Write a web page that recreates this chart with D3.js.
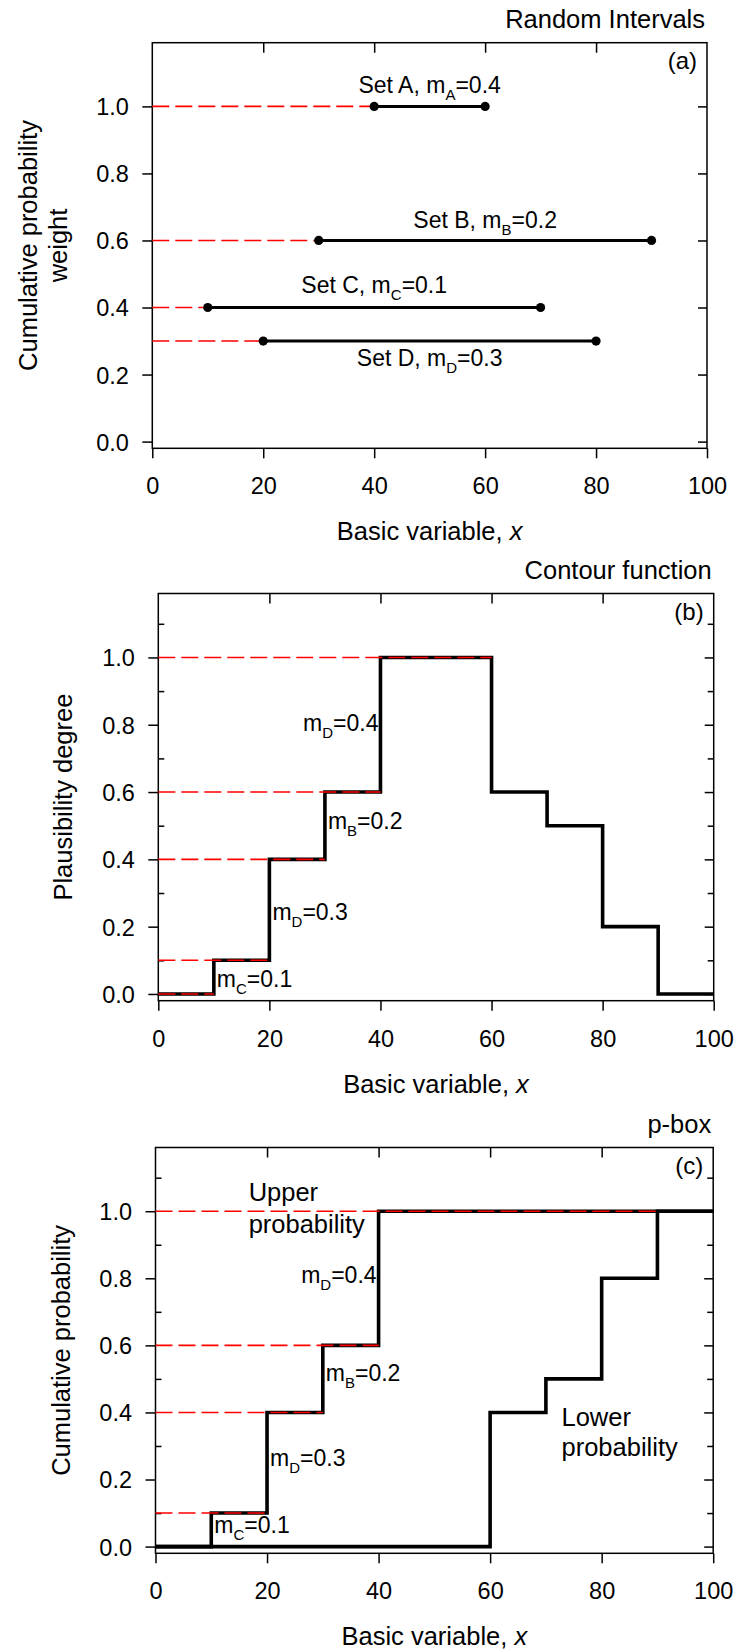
<!DOCTYPE html>
<html>
<head>
<meta charset="utf-8">
<script src="https://cdn.jsdelivr.net/npm/d3@7/dist/d3.min.js"></script>
<style>
  html, body { margin: 0; padding: 0; background: #fff; }
  svg { display: block; }
  text { font-family: "Liberation Sans", Arial, Helvetica, sans-serif; fill: #000; }
</style>
</head>
<body>
<svg id="chart" width="736" height="1651"></svg>
<script>
// ---- axis ticks ----
const xTicks = [0, 20, 40, 60, 80, 100];
const yTicks = [0, 0.2, 0.4, 0.6, 0.8, 1.0];
const yMinorTicks = [0.1, 0.3, 0.5, 0.7, 0.9, 1.1];

// ---- (a) random intervals ----
const setNames = ["A", "B", "C", "D"];
const setLow = [40, 30, 10, 20];
const setHigh = [60, 90, 70, 80];
const setMass = [0.4, 0.2, 0.1, 0.3];
const setLevel = [1.0, 0.6, 0.4, 0.3];

// ---- (b) contour function (step after each x) ----
const contourX = [0, 10, 20, 30, 40, 60, 70, 80, 90, 100];
const contourY = [0, 0.1, 0.4, 0.6, 1.0, 0.6, 0.5, 0.2, 0, 0];
const contourGuideLevel = [0, 0.1, 0.4, 0.6, 1.0];
const contourGuideEnd = [10, 20, 30, 40, 60];

// ---- (c) p-box (step after each x) ----
const upperX = [0, 10, 20, 30, 40, 100];
const upperY = [0, 0.1, 0.4, 0.6, 1.0, 1.0];
const lowerX = [0, 60, 70, 80, 90, 100];
const lowerY = [0, 0.4, 0.5, 0.8, 1.0, 1.0];
const pboxGuideLevel = [0.1, 0.4, 0.6, 1.0];
const pboxGuideEnd = [20, 30, 40, 90];

// mass labels next to the steps
const stepLabelSub = ["D", "B", "D", "C"];
const stepLabelVal = ["0.4", "0.2", "0.3", "0.1"];

const svg = d3.select("#chart");
const RED = "#ff0000";
const TICK_FONT = 23.5, TITLE_FONT = 25.5, NOTE_FONT = 23, SUB_FONT = 15;

function makePanel(opt) {
  const g = svg.append("g").attr("transform", `translate(${opt.left},${opt.top})`);
  const x = d3.scaleLinear().domain([0, 100]).range([0, opt.width]);
  const y = d3.scaleLinear().domain([-0.02, 1.19]).range([opt.height, 0]);
  const W = opt.width, H = opt.height;

  // bottom axis: outward ticks + labels
  const bottom = g.append("g").attr("transform", `translate(0,${H})`)
    .call(d3.axisBottom(x).tickValues(xTicks).tickSize(10).tickSizeOuter(0).tickPadding(0).tickFormat(d3.format("d")));
  bottom.select(".domain").remove();
  bottom.selectAll(".tick line").attr("stroke", "#000").attr("stroke-width", 1.5);
  bottom.selectAll(".tick text").attr("font-size", TICK_FONT).attr("dy", null).attr("y", 46)
    .style("font-family", null);

  // top: inward ticks without labels
  const top = g.append("g")
    .call(d3.axisTop(x).tickValues(xTicks.slice(1, -1)).tickSize(-10).tickSizeOuter(0).tickFormat(""));
  top.select(".domain").remove();
  top.selectAll(".tick line").attr("stroke", "#000").attr("stroke-width", 1.5);

  // left axis: outward majors with labels
  const left = g.append("g")
    .call(d3.axisLeft(y).tickValues(yTicks).tickSize(10).tickSizeOuter(0).tickPadding(13.5).tickFormat(d3.format(".1f")));
  left.select(".domain").remove();
  left.selectAll(".tick line").attr("stroke", "#000").attr("stroke-width", 1.5);
  left.selectAll(".tick text").attr("font-size", TICK_FONT).attr("dy", "0.36em").style("font-family", null);

  // right: inward majors
  const right = g.append("g").attr("transform", `translate(${W},0)`)
    .call(d3.axisRight(y).tickValues(yTicks).tickSize(-9).tickSizeOuter(0).tickFormat(""));
  right.select(".domain").remove();
  right.selectAll(".tick line").attr("stroke", "#000").attr("stroke-width", 1.5);

  if (opt.minor) {
    const lm = g.append("g")
      .call(d3.axisLeft(y).tickValues(yMinorTicks).tickSize(-6).tickSizeOuter(0).tickFormat(""));
    lm.select(".domain").remove();
    lm.selectAll(".tick line").attr("stroke", "#000").attr("stroke-width", 1.5);
    const rm = g.append("g").attr("transform", `translate(${W},0)`)
      .call(d3.axisRight(y).tickValues(yMinorTicks).tickSize(-6).tickSizeOuter(0).tickFormat(""));
    rm.select(".domain").remove();
    rm.selectAll(".tick line").attr("stroke", "#000").attr("stroke-width", 1.5);
  }

  // frame
  g.append("rect").attr("x", 0).attr("y", 0).attr("width", W).attr("height", H)
    .attr("fill", "none").attr("stroke", "#000").attr("stroke-width", 1.5);

  // panel title and letter
  g.append("text").attr("x", W - 2).attr("y", -14.5).attr("text-anchor", "end")
    .attr("font-size", TITLE_FONT).text(opt.title);
  g.append("text").attr("x", W - 10).attr("y", 26).attr("text-anchor", "end")
    .attr("font-size", 24).text(opt.letter);

  // x axis title
  const xt = g.append("text").attr("x", W / 2).attr("y", H + 92).attr("text-anchor", "middle")
    .attr("font-size", TITLE_FONT);
  xt.append("tspan").text("Basic variable, ");
  xt.append("tspan").attr("font-style", "italic").text("x");

  // y axis title (one or two lines)
  opt.yTitle.forEach((line, i) => {
    g.append("text")
      .attr("transform", `translate(${opt.yTitleX[i]},${H / 2}) rotate(-90)`)
      .attr("text-anchor", "middle").attr("font-size", TITLE_FONT).text(line);
  });

  return { g, x, y };
}

function dashedGuide(p, level, end) {
  p.g.append("line")
    .attr("x1", p.x(0)).attr("x2", p.x(end))
    .attr("y1", p.y(level)).attr("y2", p.y(level))
    .attr("stroke", RED).attr("stroke-width", 1.6)
    .attr("stroke-dasharray", "17,6");
}

function massLabel(p, sub, val, xv, yv, anchor, extra) {
  const t = p.g.append("text")
    .attr("x", p.x(xv) + (anchor === "end" ? -2 : 3))
    .attr("y", p.y(yv))
    .attr("text-anchor", anchor).attr("font-size", NOTE_FONT);
  if (extra) t.append("tspan").text(extra);
  t.append("tspan").text("m");
  t.append("tspan").attr("font-size", SUB_FONT).attr("dy", 7).text(sub);
  t.append("tspan").attr("dy", -7).text("=" + val);
  return t;
}

const stepLine = (p) => d3.line().x(d => p.x(d[0])).y(d => p.y(d[1])).curve(d3.curveStepAfter);

// ================= (a) Random Intervals =================
const pa = makePanel({
  left: 152.3, top: 42.7, width: 554.7, height: 405.6,
  title: "Random Intervals", letter: "(a)", minor: false,
  yTitle: ["Cumulative probability", "weight"], yTitleX: [-115.5, -85.5]
});
setNames.forEach((nm, i) => dashedGuide(pa, setLevel[i], setLow[i]));
setNames.forEach((nm, i) => {
  pa.g.append("line")
    .attr("x1", pa.x(setLow[i])).attr("x2", pa.x(setHigh[i]))
    .attr("y1", pa.y(setLevel[i])).attr("y2", pa.y(setLevel[i]))
    .attr("stroke", "#000").attr("stroke-width", 3);
  [setLow[i], setHigh[i]].forEach(v => {
    pa.g.append("circle").attr("cx", pa.x(v)).attr("cy", pa.y(setLevel[i])).attr("r", 4.6).attr("fill", "#000");
  });
});
// interval labels: centred over each interval, above or below its line
const setLabelOffset = [1.04, 0.637, 0.443, 0.224];
setNames.forEach((nm, i) => {
  const t = pa.g.append("text")
    .attr("x", pa.x((setLow[i] + setHigh[i]) / 2))
    .attr("y", pa.y(setLabelOffset[i]))
    .attr("text-anchor", "middle").attr("font-size", NOTE_FONT);
  t.append("tspan").text(`Set ${nm}, m`);
  t.append("tspan").attr("font-size", SUB_FONT).attr("dy", 7).text(nm);
  t.append("tspan").attr("dy", -7).text("=" + setMass[i].toFixed(1));
});

// ================= (b) Contour function =================
const pb = makePanel({
  left: 158.3, top: 593.5, width: 555.4, height: 407.2,
  title: "Contour function", letter: "(b)", minor: true,
  yTitle: ["Plausibility degree"], yTitleX: [-86.3]
});
pb.g.append("path").datum(contourX.map((v, i) => [v, contourY[i]]))
  .attr("d", stepLine(pb)).attr("fill", "none").attr("stroke", "#000")
  .attr("stroke-width", 3.6).attr("stroke-linejoin", "miter");
contourGuideLevel.forEach((lv, i) => dashedGuide(pb, lv, contourGuideEnd[i]));
const bLabelX = [40, 30, 20, 10], bLabelY = [0.78, 0.49, 0.22, 0.02];
const bAnchor = ["end", "start", "start", "start"];
stepLabelSub.forEach((s, i) => massLabel(pb, s, stepLabelVal[i], bLabelX[i], bLabelY[i], bAnchor[i]));

// ================= (c) p-box =================
const pc = makePanel({
  left: 155.5, top: 1147.5, width: 557.7, height: 405.8,
  title: "p-box", letter: "(c)", minor: true,
  yTitle: ["Cumulative probability"], yTitleX: [-86]
});
pc.g.append("path").datum(lowerX.map((v, i) => [v, lowerY[i]]))
  .attr("d", stepLine(pc)).attr("fill", "none").attr("stroke", "#000")
  .attr("stroke-width", 3.6).attr("stroke-linejoin", "miter");
pc.g.append("path").datum(upperX.map((v, i) => [v, upperY[i]]))
  .attr("d", stepLine(pc)).attr("fill", "none").attr("stroke", "#000")
  .attr("stroke-width", 3.6).attr("stroke-linejoin", "miter");
pboxGuideLevel.forEach((lv, i) => dashedGuide(pc, lv, pboxGuideEnd[i]));
const cLabelX = [40, 30, 20, 10], cLabelY = [0.786, 0.495, 0.24, 0.04];
stepLabelSub.forEach((s, i) => massLabel(pc, s, stepLabelVal[i], cLabelX[i], cLabelY[i], bAnchor[i]));

// bound names
[["Upper", 16.7, 1.03], ["probability", 16.7, 0.935]].forEach(([txt, xv, yv]) => {
  pc.g.append("text").attr("x", pc.x(xv)).attr("y", pc.y(yv)).attr("font-size", TITLE_FONT).text(txt);
});
[["Lower", 72.8, 0.36], ["probability", 72.8, 0.27]].forEach(([txt, xv, yv]) => {
  pc.g.append("text").attr("x", pc.x(xv)).attr("y", pc.y(yv)).attr("font-size", TITLE_FONT).text(txt);
});
</script>
</body>
</html>
